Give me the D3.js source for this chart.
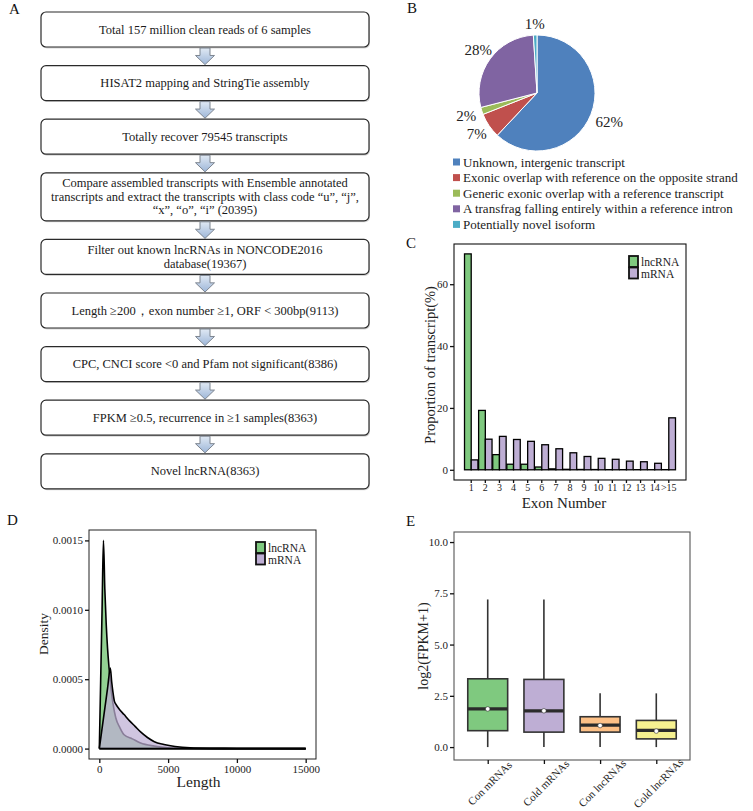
<!DOCTYPE html>
<html><head><meta charset="utf-8">
<script src="https://cdn.jsdelivr.net/npm/d3@7"></script>
<style>body{margin:0;background:#fff}svg{display:block}</style>
</head><body><svg id="c" width="753" height="811"></svg>
<script>
// ---------------- DATA ----------------
const flowSteps = [
  ["Total 157 million clean reads of 6 samples"],
  ["HISAT2 mapping and StringTie assembly"],
  ["Totally recover 79545 transcripts"],
  ["Compare assembled transcripts with Ensemble annotated",
   "transcripts and extract the transcripts with class code \u201cu\u201d, \u201cj\u201d,",
   "\u201cx\u201d, \u201co\u201d, \u201ci\u201d (20395)"],
  ["Filter out known lncRNAs in NONCODE2016", "database(19367)"],
  ["Length \u2265200\uff0cexon number \u22651, ORF < 300bp(9113)"],
  ["CPC, CNCI score <0 and Pfam not significant(8386)"],
  ["FPKM \u22650.5, recurrence in \u22651 samples(8363)"],
  ["Novel lncRNA(8363)"]
];

const pieLabels = ["Unknown, intergenic transcript",
  "Exonic overlap with reference on the opposite strand",
  "Generic exonic overlap with a reference transcript",
  "A transfrag falling entirely within a reference intron",
  "Potentially novel isoform"];
const pieValues = [62, 7, 2, 28, 1];
const pieColors = ["#4f81bd", "#c0504d", "#9bbb59", "#8064a2", "#4bacc6"];

const exonCats = ["1","2","3","4","5","6","7","8","9","10","11","12","13","14",">15"];
const lncExon  = [69.8, 19.2, 4.9, 1.8, 1.8, 0.9, 0.3, 0.15, 0.1, 0.08, 0.05, 0.05, 0.04, 0.03, 0.05];
const mrnaExon = [3.2, 9.9, 10.8, 9.8, 9.2, 8.1, 6.8, 5.5, 4.3, 3.7, 3.4, 2.8, 2.6, 2.1, 16.8];
const exonTicks = [0, 20, 40, 60];

const lncLen  = [0, 100, 200, 300, 400, 500, 600, 700, 800, 900, 1000, 1200, 1500, 1800, 2400, 3000, 4000, 5000, 6000, 8000, 15000];
const lncDens = [0, 0.0005, 0.001, 0.0015, 0.00115, 0.0009, 0.00072, 0.00059, 0.00048, 0.00039, 0.00032, 0.00022, 0.00015, 0.0001, 0.00007, 0.00004, 0.000018, 0.000006, 0.000002, 0, 0];
const mrnaLen  = [0, 200, 400, 600, 800, 900, 1000, 1100, 1200, 1400, 1800, 2200, 2600, 3000, 3500, 4000, 4700, 5500, 6600, 8000, 10000, 15000];
const mrnaDens = [0, 0.000145, 0.00029, 0.000435, 0.00058, 0.00048, 0.0004, 0.00034, 0.00032, 0.00029, 0.000245, 0.0002, 0.00016, 0.00012, 0.00008, 0.00005, 0.00003, 0.000015, 0.000005, 0.000002, 0.000001, 0];
const densTicksY = [0, 0.0005, 0.001, 0.0015];
const densTicksX = [0, 5000, 10000, 15000];

const exprGroups = ["Con mRNAs", "Cold mRNAs", "Con lncRNAs", "Cold lncRNAs"];
const exprMin    = [0, 0, 0, 0];
const exprQ1     = [0.8, 0.73, 0.73, 0.4];
const exprMedian = [1.86, 1.77, 1.07, 0.81];
const exprQ3     = [3.33, 3.3, 1.48, 1.3];
const exprMax    = [7.2, 7.2, 2.62, 2.62];
const exprMean   = [1.86, 1.77, 1.05, 0.78];
const exprColors = ["#7FC97F", "#BEAED4", "#FDC086", "#F6F190"];
const exprTicks  = [0, 2.5, 5, 7.5, 10];

const seriesNames = ["lncRNA", "mRNA"];
const seriesColors = ["#7FC97F", "#BEAED4"];

// ---------------- DRAW ----------------
const serif = '"Liberation Serif","Times New Roman",serif';
const svg = d3.select("#c").style("font-family", serif);

function letter(t, x, y) {
  svg.append("text").attr("x", x).attr("y", y).attr("font-size", 15).attr("fill", "#111").text(t);
}
letter("A", 9, 14); letter("B", 407, 13); letter("C", 406, 248); letter("D", 7, 525); letter("E", 406, 526);

function styleAxis(g, fs) {
  g.select(".domain").remove();
  g.selectAll("text").attr("font-family", serif).attr("font-size", fs || 11).attr("fill", "#222");
  g.selectAll("line").attr("stroke", "#111").attr("stroke-width", 1.3);
}

// ===== Panel A: flowchart =====
const defs = svg.append("defs");
const grad = defs.append("linearGradient").attr("id", "arrG").attr("x1", 0).attr("y1", 0).attr("x2", 0).attr("y2", 1);
grad.append("stop").attr("offset", "0%").attr("stop-color", "#e0e9f4");
grad.append("stop").attr("offset", "100%").attr("stop-color", "#9db6d8");

const fx0 = 41, fx1 = 369, fcx = (fx0 + fx1) / 2;
let fy = 12;
const boxes = [];
flowSteps.forEach(lines => {
  const h = lines.length > 2 ? 48 : 35;
  boxes.push({ lines, y: fy, h });
  fy += h + 18.6;
});
const fg = svg.append("g");
boxes.forEach((b, i) => {
  fg.append("rect").attr("x", fx0 + 1).attr("y", b.y + 1.5).attr("width", fx1 - fx0).attr("height", b.h)
    .attr("rx", 5).attr("fill", "#d6d6d6");
  fg.append("rect").attr("x", fx0).attr("y", b.y).attr("width", fx1 - fx0).attr("height", b.h)
    .attr("rx", 5).attr("fill", "#fff").attr("stroke", "#2a2a2a").attr("stroke-width", 1.2);
  const lh = 13.5, cy = b.y + b.h / 2;
  b.lines.forEach((t, j) => {
    fg.append("text").attr("x", fcx).attr("y", cy + (j - (b.lines.length - 1) / 2) * lh)
      .attr("text-anchor", "middle").attr("dominant-baseline", "central")
      .attr("font-size", 12.5).attr("fill", "#1a1a1a").text(t);
  });
  if (i < boxes.length - 1) {
    const y0 = b.y + b.h + 1, y1 = boxes[i + 1].y - 1, ym = y0 + (y1 - y0) * 0.45;
    fg.append("path")
      .attr("d", `M${fcx-5},${y0} L${fcx+5},${y0} L${fcx+5},${ym} L${fcx+9.5},${ym} L${fcx},${y1} L${fcx-9.5},${ym} L${fcx-5},${ym} Z`)
      .attr("fill", "url(#arrG)").attr("stroke", "#7d8590").attr("stroke-width", 1);
  }
});

// ===== Panel B: pie =====
const pcx = 537, pcy = 93, pr = 58;
const pieData = d3.pie().sort(null).value(d => d)(pieValues);
const arc = d3.arc().innerRadius(0).outerRadius(pr);
const pg = svg.append("g").attr("transform", `translate(${pcx},${pcy})`);
pg.selectAll("path").data(pieData).join("path").attr("d", arc)
  .attr("fill", (d, i) => pieColors[i]).attr("stroke", "#fff").attr("stroke-width", 1);
pieData.forEach(d => {
  const a = (d.startAngle + d.endAngle) / 2;
  const dx = Math.sin(a), dy = -Math.cos(a);
  const t = pg.append("text").attr("font-size", 15).attr("fill", "#222")
    .attr("text-anchor", "middle").attr("dominant-baseline", "central").text(d.value + "%");
  const w = t.node().getBBox().width, hh = 5;
  const ext = Math.min(Math.abs(dx) > 1e-6 ? (w / 2) / Math.abs(dx) : 1e9, Math.abs(dy) > 1e-6 ? hh / Math.abs(dy) : 1e9);
  const dist = pr + 6 + ext;
  t.attr("x", dx * dist).attr("y", dy * dist);
});
const lg = svg.append("g");
pieLabels.forEach((l, i) => {
  const y = 162 + i * 15.6;
  lg.append("rect").attr("x", 453).attr("y", y - 3.5).attr("width", 7).attr("height", 7).attr("fill", pieColors[i]);
  lg.append("text").attr("x", 463).attr("y", y).attr("dominant-baseline", "central")
    .attr("font-size", 13).attr("fill", "#222").text(l);
});

// ===== Panel C: exon number bars =====
const cL = 454, cR = 686, cT = 244, cB = 480;
const xC = d3.scaleBand().domain(exonCats).range([cL, cR]).paddingInner(0.05).paddingOuter(0.745);
const yC = d3.scaleLinear().domain([-3.3, 73]).range([cB, cT]);
const cg = svg.append("g");
const bw = xC.bandwidth() / 2;
exonCats.forEach((c, i) => {
  [lncExon[i], mrnaExon[i]].forEach((v, s) => {
    cg.append("rect").attr("x", xC(c) + s * bw).attr("y", yC(v)).attr("width", bw)
      .attr("height", yC(0) - yC(v)).attr("fill", seriesColors[s]).attr("stroke", "#000").attr("stroke-width", 1.3);
  });
});
cg.append("rect").attr("x", cL).attr("y", cT).attr("width", cR - cL).attr("height", cB - cT)
  .attr("fill", "none").attr("stroke", "#111").attr("stroke-width", 1.1);
cg.append("g").attr("transform", `translate(${cL},0)`)
  .call(d3.axisLeft(yC).tickValues(exonTicks).tickSize(4).tickPadding(2)).call(g => styleAxis(g, 11));
cg.append("g").attr("transform", `translate(0,${cB})`)
  .call(d3.axisBottom(xC).tickSize(3).tickPadding(1)).call(g => styleAxis(g, 10));
cg.append("text").attr("x", (cL + cR) / 2 - 6).attr("y", 503).attr("text-anchor", "middle")
  .attr("dominant-baseline", "central").attr("font-size", 15).attr("fill", "#222").text("Exon Number");
cg.append("text").attr("transform", `translate(430,${(cT + cB) / 2 + 3}) rotate(-90)`)
  .attr("text-anchor", "middle").attr("dominant-baseline", "central").attr("font-size", 14.5).attr("fill", "#222")
  .text("Proportion of transcript(%)");

function legend(g, x, y) {
  seriesNames.forEach((n, i) => {
    g.append("rect").attr("x", x).attr("y", y + i * 11.5).attr("width", 9).attr("height", 11)
      .attr("fill", seriesColors[i]).attr("stroke", "#111").attr("stroke-width", 1.8);
    g.append("text").attr("x", x + 12).attr("y", y + i * 11.5 + 6).attr("dominant-baseline", "central")
      .attr("font-size", 11.5).attr("fill", "#222").text(n);
  });
}
legend(cg, 629, 256);

// ===== Panel D: density =====
const dL = 89, dR = 316, dT = 530, dB = 759;
const xD = d3.scaleLinear().domain([-750, 15750]).range([dL, dR]);
const yD = d3.scaleLinear().domain([-0.000075, 0.001575]).range([dB, dT]);
const dg = svg.append("g");
const curves = [
  { len: lncLen, dens: lncDens, color: seriesColors[0], op: 0.85 },
  { len: mrnaLen, dens: mrnaDens, color: seriesColors[1], op: 0.72 }
];
curves.forEach(cv => {
  const pts = cv.len.map((l, i) => [l, cv.dens[i]]);
  const area = d3.area().x(d => xD(d[0])).y0(yD(0)).y1(d => yD(d[1])).curve(d3.curveMonotoneX);
  const line = d3.line().x(d => xD(d[0])).y(d => yD(d[1])).curve(d3.curveMonotoneX);
  dg.append("path").attr("d", area(pts)).attr("fill", cv.color).attr("fill-opacity", cv.op);
  dg.append("path").attr("d", line(pts)).attr("fill", "none").attr("stroke", "#000").attr("stroke-width", 1.6);
  dg.append("line").attr("x1", xD(0)).attr("x2", xD(15000)).attr("y1", yD(0)).attr("y2", yD(0))
    .attr("stroke", "#000").attr("stroke-width", 1.6);
});
dg.append("rect").attr("x", dL).attr("y", dT).attr("width", dR - dL).attr("height", dB - dT)
  .attr("fill", "none").attr("stroke", "#222").attr("stroke-width", 1);
dg.append("g").attr("transform", `translate(${dL},0)`)
  .call(d3.axisLeft(yD).tickValues(densTicksY).tickFormat(d3.format(".4f")).tickSize(4).tickPadding(2))
  .call(g => styleAxis(g, 11));
dg.append("g").attr("transform", `translate(0,${dB})`)
  .call(d3.axisBottom(xD).tickValues(densTicksX).tickFormat(d3.format("d")).tickSize(4).tickPadding(2))
  .call(g => styleAxis(g, 11));
dg.append("text").attr("x", (dL + dR) / 2 - 4).attr("y", 781).attr("text-anchor", "middle")
  .attr("dominant-baseline", "central").attr("font-size", 15.5).attr("fill", "#222").text("Length");
dg.append("text").attr("transform", `translate(43,634) rotate(-90)`)
  .attr("text-anchor", "middle").attr("dominant-baseline", "central").attr("font-size", 13.5).attr("fill", "#222")
  .text("Density");
legend(dg, 256, 542);

// ===== Panel E: boxplots =====
const eL = 454, eR = 690, eT = 532, eB = 760;
const xE = d3.scalePoint().domain(exprGroups).range([eL, eR]).padding(0.6);
const yE = d3.scaleLinear().domain([-0.63, 10.49]).range([eB, eT]);
const eg = svg.append("g");
const boxW = xE.step() * 0.71;
exprGroups.forEach((g, i) => {
  const cx = xE(g);
  eg.append("line").attr("x1", cx).attr("x2", cx).attr("y1", yE(exprMin[i])).attr("y2", yE(exprMax[i]))
    .attr("stroke", "#333").attr("stroke-width", 1.6);
  eg.append("rect").attr("x", cx - boxW / 2).attr("y", yE(exprQ3[i])).attr("width", boxW)
    .attr("height", yE(exprQ1[i]) - yE(exprQ3[i])).attr("fill", exprColors[i])
    .attr("stroke", "#333").attr("stroke-width", 1.6);
  eg.append("line").attr("x1", cx - boxW / 2).attr("x2", cx + boxW / 2)
    .attr("y1", yE(exprMedian[i])).attr("y2", yE(exprMedian[i])).attr("stroke", "#2b2b2b").attr("stroke-width", 3.2);
  eg.append("circle").attr("cx", cx).attr("cy", yE(exprMean[i])).attr("r", 2.3)
    .attr("fill", "#fff").attr("stroke", "#333").attr("stroke-width", 0.6);
});
eg.append("rect").attr("x", eL).attr("y", eT).attr("width", eR - eL).attr("height", eB - eT)
  .attr("fill", "none").attr("stroke", "#555").attr("stroke-width", 1.1);
eg.append("g").attr("transform", `translate(${eL},0)`)
  .call(d3.axisLeft(yE).tickValues(exprTicks).tickFormat(d3.format(".1f")).tickSize(4).tickPadding(2))
  .call(g => styleAxis(g, 11));
const xa = eg.append("g").attr("transform", `translate(0,${eB})`)
  .call(d3.axisBottom(xE).tickSize(4).tickFormat(""));
styleAxis(xa, 11);
exprGroups.forEach(g => {
  eg.append("text").attr("transform", `translate(${xE(g) + 2},783) rotate(-45)`)
    .attr("text-anchor", "middle").attr("dominant-baseline", "central")
    .attr("font-size", 11).attr("fill", "#222").text(g);
});
eg.append("text").attr("transform", `translate(423,${(eT + eB) / 2}) rotate(-90)`)
  .attr("text-anchor", "middle").attr("dominant-baseline", "central").attr("font-size", 14).attr("fill", "#222")
  .text("log2(FPKM+1)");
</script>
</body></html>
